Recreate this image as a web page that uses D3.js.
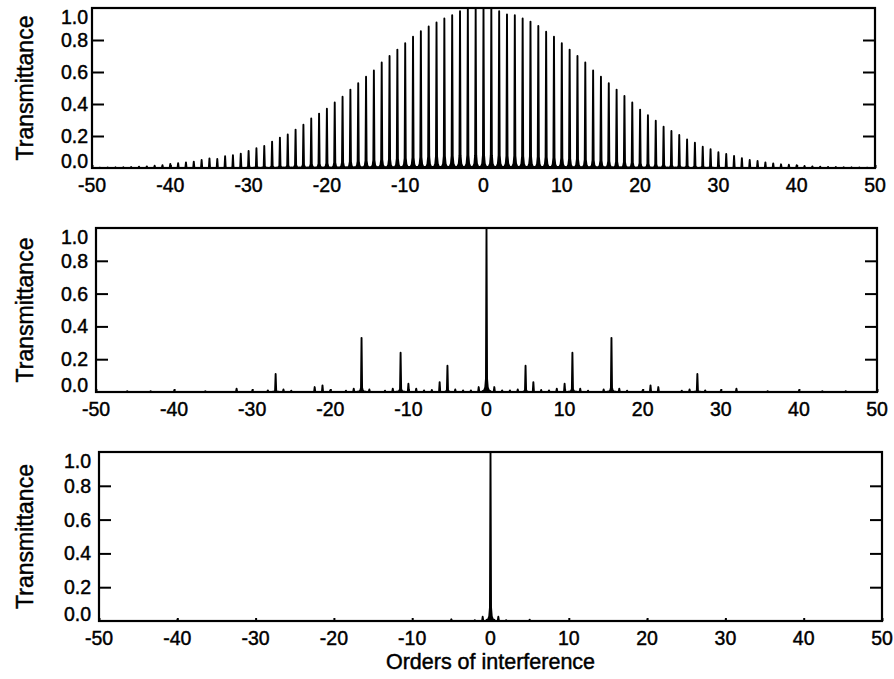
<!DOCTYPE html>
<html>
<head>
<meta charset="utf-8">
<script src="https://cdn.jsdelivr.net/npm/d3@7"></script>
<style>
  body { margin: 0; background: #fff; }
  svg { display: block; }
  text { font-family: "Liberation Sans", Arial, Helvetica, sans-serif; fill: #000; stroke: #000; stroke-width: 0.45px; }
</style>
</head>
<body>
<svg id="chart"></svg>
<script>
// Three panels of transmittance vs. order of interference

const width = 894;
const height = 679;

// ---- data ----
const xTicks = [-50, -40, -30, -20, -10, 0, 10, 20, 30, 40, 50];
const yTicks = [0.0, 0.2, 0.4, 0.6, 0.8, 1.0];

// panel 1: single etalon, every order
const fringeOrders = [
  -50, -49, -48, -47, -46, -45, -44, -43, -42, -41,
  -40, -39, -38, -37, -36, -35, -34, -33, -32, -31,
  -30, -29, -28, -27, -26, -25, -24, -23, -22, -21,
  -20, -19, -18, -17, -16, -15, -14, -13, -12, -11,
  -10, -9, -8, -7, -6, -5, -4, -3, -2, -1,
  0, 1, 2, 3, 4, 5, 6, 7, 8, 9,
  10, 11, 12, 13, 14, 15, 16, 17, 18, 19,
  20, 21, 22, 23, 24, 25, 26, 27, 28, 29,
  30, 31, 32, 33, 34, 35, 36, 37, 38, 39,
  40, 41, 42, 43, 44, 45, 46, 47, 48, 49, 50
];
const fringeT = [
  0.001, 0.002, 0.003, 0.004, 0.005, 0.006, 0.008, 0.010, 0.014, 0.018,
  0.025, 0.030, 0.035, 0.040, 0.050, 0.060, 0.056, 0.073, 0.080, 0.090,
  0.106, 0.123, 0.138, 0.165, 0.190, 0.210, 0.240, 0.270, 0.310, 0.340,
  0.370, 0.410, 0.445, 0.490, 0.530, 0.570, 0.610, 0.660, 0.700, 0.740,
  0.780, 0.820, 0.855, 0.885, 0.910, 0.935, 0.955, 0.980, 1.000, 1.000,
  1.000, 1.000, 0.980, 0.960, 0.955, 0.935, 0.915, 0.888, 0.852, 0.820,
  0.780, 0.740, 0.700, 0.660, 0.610, 0.570, 0.530, 0.490, 0.450, 0.410,
  0.365, 0.330, 0.296, 0.258, 0.231, 0.206, 0.179, 0.158, 0.133, 0.117,
  0.098, 0.088, 0.075, 0.062, 0.050, 0.044, 0.035, 0.029, 0.023, 0.020,
  0.017, 0.013, 0.010, 0.008, 0.007, 0.006, 0.005, 0.004, 0.003, 0.002, 0.001
];

// panel 2: two etalons combined
const pairOrders = [
  -46, -43, -40, -36, -32, -30, -28, -27, -26, -25, -22, -21, -20, -18, -17, -16,
  -15, -13, -12, -11, -10, -9, -8, -7, -6, -5, -4, -3, -2, -1,
  0,
  1, 2, 3, 4, 5, 6, 7, 8, 9, 10, 11, 12, 13, 15,
  16, 17, 18, 20, 21, 22, 25, 26, 27, 28, 30, 32, 36, 40, 43, 46
];
const pairT = [
  0.005, 0.005, 0.006, 0.005, 0.020, 0.006, 0.010, 0.110, 0.015, 0.008, 0.030, 0.040, 0.010, 0.008, 0.020, 0.330,
  0.015, 0.008, 0.020, 0.240, 0.050, 0.020, 0.010, 0.012, 0.060, 0.160, 0.015, 0.010, 0.010, 0.030,
  1.000,
  0.030, 0.010, 0.010, 0.015, 0.160, 0.060, 0.012, 0.010, 0.020, 0.050, 0.240, 0.020, 0.008, 0.015,
  0.330, 0.020, 0.008, 0.010, 0.040, 0.030, 0.008, 0.015, 0.110, 0.010, 0.006, 0.020, 0.005, 0.006, 0.005, 0.005
];

// panel 3: full stack, one order left
const stackOrders = [-40, -5, -2, -1, 0, 1, 2, 5, 20, 30];
const stackT = [0.006, 0.010, 0.005, 0.025, 1.000, 0.025, 0.005, 0.008, 0.004, 0.004];

// ---- layout ----
const panels = [
  { orders: fringeOrders, values: fringeT, left: 92, right: 875, top: 8, bottom: 168, labelGap: 4 },
  { orders: pairOrders, values: pairT, left: 96, right: 877, top: 228, bottom: 392, labelGap: 8 },
  { orders: stackOrders, values: stackT, left: 99, right: 882, top: 452, bottom: 621, labelGap: 8 }
];

// shape of one transmission peak: [order offset, fraction of peak height]
const peakProfile = [
  [-0.5, 0], [-0.5, 0.006], [-0.3, 0.01], [-0.16, 0.028], [-0.07, 0.08],
  [0, 1],
  [0.07, 0.08], [0.16, 0.028], [0.3, 0.01], [0.5, 0.006], [0.5, 0]
];

const svg = d3.select("#chart")
  .attr("width", width)
  .attr("height", height)
  .attr("viewBox", "0 0 " + width + " " + height);

const line = d3.line();

panels.forEach(function (p, i) {
  const x = d3.scaleLinear().domain([-50, 50]).range([p.left, p.right]);
  const y = d3.scaleLinear().domain([0, 1]).range([p.bottom, p.top]);
  const g = svg.append("g");

  const clipId = "clip" + i;
  svg.append("clipPath").attr("id", clipId)
    .append("rect")
    .attr("x", p.left).attr("y", p.top - 2)
    .attr("width", p.right - p.left).attr("height", p.bottom - p.top + 2);

  // peaks
  const data = p.orders.map(function (o, k) { return { order: o, t: p.values[k] }; });
  g.append("g")
    .attr("clip-path", "url(#" + clipId + ")")
    .selectAll("path.peak")
    .data(data)
    .enter()
    .append("path")
    .attr("class", "peak")
    .attr("d", function (d) {
      return line(peakProfile.map(function (s) {
        return [x(d.order + s[0]), y(d.t * s[1])];
      }));
    })
    .attr("fill", "#000")
    .attr("stroke", "#000")
    .attr("stroke-width", 1.9)
    .attr("stroke-linejoin", "round");

  // y ticks, inward on both sides
  const yAxisL = d3.axisRight(y).tickValues([0.2, 0.4, 0.6, 0.8]).tickSize(12).tickFormat("");
  const yAxisR = d3.axisLeft(y).tickValues([0.2, 0.4, 0.6, 0.8]).tickSize(12).tickFormat("");
  g.append("g").attr("transform", "translate(" + p.left + ",0)").call(yAxisL);
  g.append("g").attr("transform", "translate(" + p.right + ",0)").call(yAxisR);

  // tiny x ticks
  const xAxis = d3.axisTop(x).tickValues(xTicks).tickSize(3).tickFormat("");
  g.append("g").attr("transform", "translate(0," + p.bottom + ")").call(xAxis);

  g.selectAll(".domain").remove();
  g.selectAll(".tick line").attr("stroke", "#000").attr("stroke-width", 2);

  // frame
  g.append("rect")
    .attr("x", p.left).attr("y", p.top)
    .attr("width", p.right - p.left).attr("height", p.bottom - p.top)
    .attr("fill", "none")
    .attr("stroke", "#000")
    .attr("stroke-width", 2.2);

  // x tick labels
  g.selectAll("text.xlab")
    .data(xTicks)
    .enter()
    .append("text")
    .attr("class", "xlab")
    .attr("x", function (d) { return x(d); })
    .attr("y", p.bottom + 24)
    .attr("text-anchor", "middle")
    .attr("font-size", 19.5)
    .text(function (d) { return d; });

  // y tick labels (end labels nudged inward like the original)
  g.selectAll("text.ylab")
    .data(yTicks)
    .enter()
    .append("text")
    .attr("class", "ylab")
    .attr("x", p.left - p.labelGap)
    .attr("y", function (d) {
      let shift = 0;
      if (d === 1) shift = 9;
      if (d === 0) shift = -7;
      return y(d) + shift;
    })
    .attr("dy", "0.36em")
    .attr("text-anchor", "end")
    .attr("font-size", 19.5)
    .text(function (d) { return d.toFixed(1); });

  // y axis title
  g.append("text")
    .attr("transform", "translate(33," + ((p.top + p.bottom) / 2) + ") rotate(-90)")
    .attr("text-anchor", "middle")
    .attr("font-size", 23)
    .text("Transmittance");

  if (i === panels.length - 1) {
    g.append("text")
      .attr("x", (p.left + p.right) / 2)
      .attr("y", 669)
      .attr("text-anchor", "middle")
      .attr("font-size", 21.5)
      .text("Orders of interference");
  }
});
</script>
</body>
</html>
